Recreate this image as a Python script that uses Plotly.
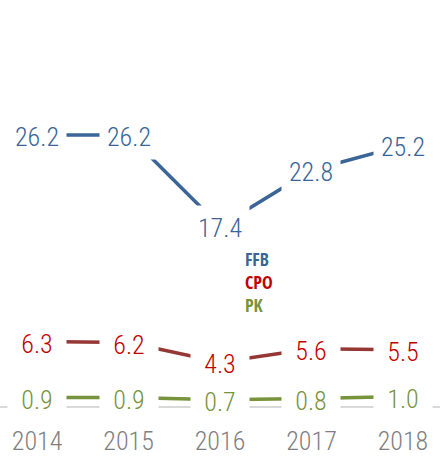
import plotly.graph_objects as go

years = ["2014", "2015", "2016", "2017", "2018"]
ffb = [26.2, 26.2, 17.4, 22.8, 25.2]
cpo = [6.3, 6.2, 4.3, 5.6, 5.5]
pk = [0.9, 0.9, 0.7, 0.8, 1.0]

names = ["FFB", "CPO", "PK"]
values = [ffb, cpo, pk]
line_colors = ["#3b6596", "#953735", "#77933c"]
text_colors = ["#3b6596", "#c00000", "#77933c"]

FONT = "Roboto Condensed, sans-serif"
W, H, MB = 440, 456, 45

fig = go.Figure()
xs = list(range(len(years)))
for name, vals, lc in zip(names, values, line_colors):
    fig.add_trace(go.Scatter(x=xs, y=vals, mode="lines", name=name,
                             line=dict(color=lc, width=3.5), hoverinfo="skip"))

fig.add_shape(type="line", xref="paper", yref="y", x0=0, x1=1, y0=0, y1=0,
              line=dict(color="#d9d9d9", width=2), layer="above")

annotations = []
for vals, tc in zip(values, text_colors):
    for i, v in enumerate(vals):
        annotations.append(dict(x=i, y=v, xref="x", yref="y", text=f"{v:.1f}",
                                showarrow=False, bgcolor="white", borderpad=0,
                                width=58, height=44, yshift=-2,
                                font=dict(family=FONT, size=26, color=tc, weight=300)))

leg_py = [260, 283, 306]
for name, tc, py in zip(names, text_colors, leg_py):
    annotations.append(dict(x=243 / W, y=(H - py - MB) / (H - MB), xref="paper", yref="paper",
                            text=f"<b>{name}</b>", showarrow=False,
                            xanchor="left", yanchor="middle",
                            font=dict(family="Open Sans Condensed, sans-serif", size=18, color=tc)))

fig.update_layout(
    width=W, height=H,
    margin=dict(l=0, r=0, t=0, b=MB),
    plot_bgcolor="white", paper_bgcolor="white",
    showlegend=False,
    annotations=annotations,
    xaxis=dict(range=[-0.405, 4.405], tickmode="array", tickvals=xs, ticktext=years,
               showgrid=False, zeroline=False, showline=False,
               tickfont=dict(family=FONT, size=26, color="#7f7f7f", weight=300),
               ticks="", ticklabelstandoff=14),
    yaxis=dict(range=[-0.2, 39.2], showticklabels=False, showgrid=False,
               zeroline=False, showline=False),
)

fig.write_html("out.html")
